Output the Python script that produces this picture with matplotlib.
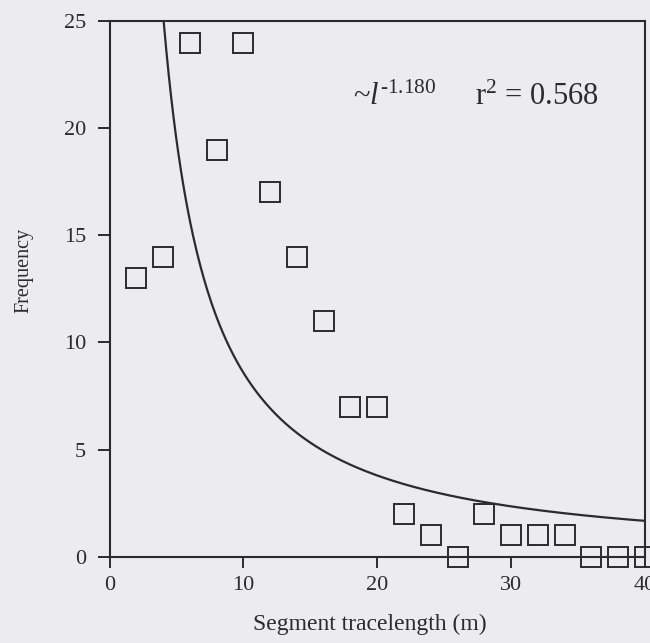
import numpy as np
import matplotlib
matplotlib.use("Agg")
import matplotlib.pyplot as plt

# Frequency of segment tracelengths (2 m bins)
tracelength = [2, 4, 6, 8, 10, 12, 14, 16, 18, 20,
               22, 24, 26, 28, 30, 32, 34, 36, 38, 40]
frequency = [13, 14, 24, 19, 24, 17, 14, 11, 7, 7,
             2, 1, 0, 2, 1, 1, 1, 0, 0, 0]

# Power-law fit  f ~ a * l^b
fit_exponent = -1.180
fit_scale = 130.0
fit_r2 = 0.568

x_ticks = [0, 10, 20, 30, 40]
y_ticks = [0, 5, 10, 15, 20, 25]

plt.rcParams['font.family'] = ['Liberation Serif', 'DejaVu Serif']
plt.rcParams['mathtext.fontset'] = 'custom'
plt.rcParams['mathtext.rm'] = 'Liberation Serif'
plt.rcParams['mathtext.it'] = 'Liberation Serif:italic'

bg = '#ececee'
ink = '#2b2a2e'

fig = plt.figure(figsize=(6.5, 6.43), dpi=100, facecolor=bg)
ax = fig.add_axes([0.1685, 0.1342, 0.8238, 0.833], facecolor=bg)

xs = np.linspace(3.5, 40, 400)
ax.plot(xs, fit_scale * xs ** fit_exponent, color=ink, lw=1.6, zorder=2)

ax.plot(tracelength, frequency, linestyle='none', marker='s', ms=14,
        mfc='none', mec=ink, mew=1.4, clip_on=False, zorder=3)

ax.set_xlim(0, 40)
ax.set_ylim(0, 25)
ax.set_xticks(x_ticks)
ax.set_yticks(y_ticks)

for s in ax.spines.values():
    s.set_linewidth(1.5)
    s.set_color(ink)

ax.tick_params(axis='x', direction='out', length=8, width=1.4, pad=6,
               labelsize=16, colors=ink)
ax.tick_params(axis='y', direction='out', length=9, width=1.4, pad=8,
               labelsize=16, colors=ink)

ax.set_xlabel('Segment tracelength (m)', fontsize=17, color=ink)
ax.xaxis.set_label_coords(0.487, -0.106)
ax.set_ylabel('Frequency', fontsize=14.5, color=ink)
ax.yaxis.set_label_coords(-0.142, 0.535)

ax.text(18.2, 21.1, r'~$l^{\text{-1.180}}$', fontsize=22, color=ink,
        ha='left', va='baseline')
ax.text(27.3, 21.1, r'r$^{2}$ = ' + f'{fit_r2:.3f}', fontsize=22, color=ink,
        ha='left', va='baseline')

fig.savefig('out.png', dpi=100, facecolor=bg)
